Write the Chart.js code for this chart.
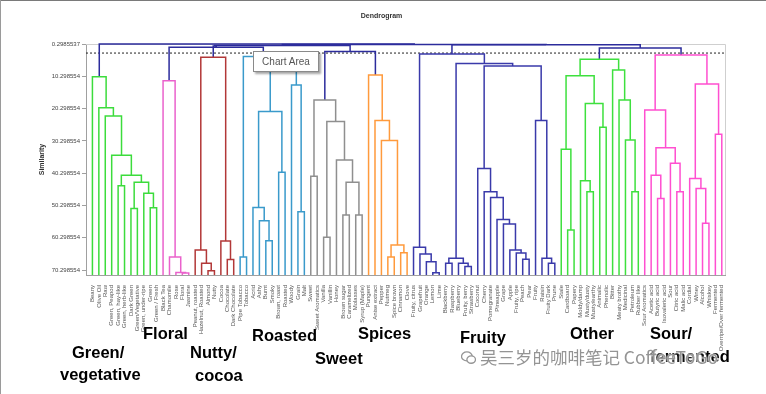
<!DOCTYPE html>
<html>
<head>
<meta charset="utf-8">
<script src="https://cdn.jsdelivr.net/npm/chart.js@4/dist/chart.umd.min.js"></script>
<style>
  html, body { margin: 0; padding: 0; background: #fff; }
  #wrap { position: relative; width: 766px; height: 394px; overflow: hidden; background: #fff; }
  #wrap canvas { position: absolute; left: 0; top: 0; }
  .cat { position: absolute; font-family: "Liberation Sans", Arial, sans-serif; font-weight: bold; font-size: 16.5px; color: #000; line-height: 22px; white-space: nowrap; }
  #tip { position: absolute; left: 253px; top: 51px; width: 64px; height: 19px; background: #fff; border: 1px solid #8a8a8a;
         box-shadow: 2px 2px 2px rgba(0,0,0,0.35); font-family: "Liberation Sans", Arial, sans-serif; font-size: 10px; color: #555;
         line-height: 19px; text-align: center; }
  #wm { position: absolute; left: 461px; top: 345px; font-family: "Noto Sans CJK SC", "Liberation Sans", sans-serif; font-size: 17.5px;
        color: #949494; white-space: nowrap; line-height: 24px; text-shadow: 0 0 2px #fff, 0 0 2px #fff; }
  #frameT { position: absolute; left: 0; top: 0; width: 766px; height: 1px; background: #7a7a7a; }
  #frameL { position: absolute; left: 0; top: 0; width: 1px; height: 394px; background: #9a9a9a; }
</style>
</head>
<body>
<div id="wrap">
  <canvas id="c" width="766" height="394"></canvas>
  <div id="tip">Chart Area</div>
  <div class="cat" style="left:72px; top:341px;">Green/</div>
  <div class="cat" style="left:60px; top:363px;">vegetative</div>
  <div class="cat" style="left:143px; top:322px;">Floral</div>
  <div class="cat" style="left:190px; top:341px;">Nutty/</div>
  <div class="cat" style="left:195px; top:364px;">cocoa</div>
  <div class="cat" style="left:252px; top:324px;">Roasted</div>
  <div class="cat" style="left:315px; top:347px;">Sweet</div>
  <div class="cat" style="left:358px; top:322px;">Spices</div>
  <div class="cat" style="left:460px; top:326px;">Fruity</div>
  <div class="cat" style="left:570px; top:322px;">Other</div>
  <div class="cat" style="left:650px; top:322px;">Sour/</div>
  <div class="cat" style="left:650px; top:345px;">fermented</div>
  <div id="wm"><svg width="15" height="14" viewBox="0 0 14 13" style="vertical-align:-1px"><ellipse cx="5.5" cy="5" rx="5" ry="4.2" fill="none" stroke="#949494" stroke-width="1.2"/><ellipse cx="9.5" cy="8" rx="4" ry="3.4" fill="#fff" stroke="#949494" stroke-width="1.2"/></svg> 吴三岁的咖啡笔记 CoffeeToGo</div>
  <div id="frameT"></div>
  <div id="frameL"></div>
</div>
<script>
// ---------------- data ----------------
const leafLabels = [
  "Beany","Olive Oil","Raw","Green, Peapod","Green, hay-like","Green, herb-like","Dark Green","Green/Vegetative","Green, under-ripe","Green","Green / Fresh",
  "Black Tea","Chamomile","Rose","Floral","Jasmine",
  "Peanut, roasted","Hazelnut, Roasted","Almond","Nutty","Cocoa","Chocolate","Dark Chocolate",
  "Pipe Tobacco","Tobacco","Acrid","Ashy","Burnt","Smoky","Brown, roast","Roasted","Woody","Grain","Malt",
  "Sweet","Sweet Aromatics","Vanilla","Vanillin","Honey","Brown sugar","Caramelized","Molasses","Syrup (Maple)",
  "Pungent","Anise extract","Pepper","Nutmeg","Spice brown","Cinnamon","Clove",
  "Fruity, citrus","Grapefruit","Orange","Lemon","Lime","Blackberry","Raspberry","Blueberry","Fruity, berry","Strawberry",
  "Coconut","Cherry","Pomegranate","Pineapple","Grape","Apple","Fruity, ripe","Peach","Pear","Fruity","Raisin","Fruity Dark","Prune",
  "Stale","Cardboard","Papery","Moldy/damp","Musty/dusty","Musty/earthy","Animalic","Phenolic","Bitter","Meaty brothy","Medicinal","Petroleum","Rubber like",
  "Sour Aromatics","Acetic acid","Butyric acid","Isovaleric acid","Sour","Citric acid","Malic acid","Cordial","Winey","Alcohol","Whiskey","Fermented","Overripe/Over fermented"
];

const yTickValues = [0.2985537, 10.298554, 20.298554, 30.298554, 40.298554, 50.298554, 60.298554, 70.298554];
const yTickLabels = ["0.2985537","10.298554","20.298554","30.298554","40.298554","50.298554","60.298554","70.298554"];

const cutLevel = 3.1;

// merges: [node id, left child, right child, similarity level]; numbers are leaf indices
const greenMerges = [
  ["g1", 9, 10, 51.0], ["g2", 8, "g1", 46.5], ["g3", 6, 7, 51.2], ["g4", "g3", "g2", 43.1],
  ["g5", 4, 5, 44.2], ["g6", "g5", "g4", 40.9], ["g7", 3, "g6", 34.7], ["g8", 2, "g7", 22.6],
  ["g9", 1, "g8", 20.0], ["g10", 0, "g9", 10.4]
];
const floralMerges = [
  ["f1", 14, 15, 71.2], ["f2", 13, "f1", 71.0], ["f3", 12, "f2", 66.2], ["f4", 11, "f3", 11.7]
];
const nuttyMerges = [
  ["n1", 18, 19, 70.5], ["n2", 17, "n1", 68.2], ["n3", 16, "n2", 64.1],
  ["n4", 21, 22, 67.0], ["n5", 20, "n4", 61.3], ["n6", "n3", "n5", 4.4]
];
const roastedMerges = [
  ["r1", 23, 24, 66.2], ["r2", 27, 28, 61.2], ["r3", 26, "r2", 55.0], ["r4", 25, "r3", 50.9],
  ["r5", 29, 30, 40.0], ["r6", "r4", "r5", 21.2], ["r7", 32, 33, 52.2], ["r8", 31, "r7", 13.0],
  ["r9", "r6", "r8", 7.5], ["r10", "r1", "r9", 4.2]
];
const sweetMerges = [
  ["s1", 36, 37, 60.1], ["s2", 39, 40, 53.2], ["s3", 41, 42, 53.2], ["s4", "s2", "s3", 43.1],
  ["s5", 38, "s4", 36.2], ["s6", "s1", "s5", 24.3], ["s7", 34, 35, 41.2], ["s8", "s7", "s6", 17.6]
];
const spiceMerges = [
  ["p1", 46, 47, 66.2], ["p2", 48, 49, 64.9], ["p3", "p1", "p2", 62.5], ["p4", 45, "p3", 30.2],
  ["p5", 44, "p4", 24.0], ["p6", 43, "p5", 9.9]
];
const fruityMerges = [
  ["c1", 53, 54, 71.1], ["c2", 52, "c1", 67.7], ["c3", 51, "c2", 65.3], ["c4", 50, "c3", 63.2],
  ["b1", 55, 56, 68.2], ["b2", 58, 59, 69.2], ["b3", 57, "b2", 68.2], ["b4", "b1", "b3", 66.6],
  ["t1", 67, 68, 66.9], ["t2", 66, "t1", 65.0], ["t3", 65, "t2", 64.1], ["t4", 64, "t3", 56.0],
  ["t5", 63, "t4", 54.6], ["t6", 62, "t5", 47.8], ["t7", 61, "t6", 46.0], ["t8", 60, "t7", 38.8],
  ["d1", 71, 72, 68.2], ["d2", 70, "d1", 66.6], ["d3", 69, "d2", 24.0],
  ["u1", "t8", "d3", 7.1], ["u2", "b4", "u1", 6.3], ["u3", "c4", "u2", 3.4]
];
const otherMerges = [
  ["o1", 74, 75, 57.9], ["o2", 73, "o1", 32.9], ["o3", 77, 78, 46.0], ["o4", 76, "o3", 42.6],
  ["o5", 79, 80, 26.1], ["o6", "o4", "o5", 18.7], ["o7", "o2", "o6", 10.1], ["o8", 84, 85, 46.0],
  ["o9", 83, "o8", 30.0], ["o10", 82, "o9", 17.6], ["o11", 81, "o10", 8.35], ["o12", "o7", "o11", 5.0]
];
const sourMerges = [
  ["a1", 88, 89, 48.1], ["a2", 87, "a1", 40.9], ["a3", 91, 92, 46.0], ["a4", 90, "a3", 37.2],
  ["a5", "a2", "a4", 32.4], ["a6", 86, "a5", 20.7], ["a7", 95, 96, 55.8], ["a8", 94, "a7", 45.0],
  ["a9", 93, "a8", 41.9], ["a10", 97, 98, 28.2], ["a11", "a9", "a10", 12.7], ["a12", "a6", "a11", 3.7]
];
const topMerges = [
  ["x1", "f4", "r10", 1.3], ["x2", "n6", "x1", 0.95], ["x3", "s8", "p6", 2.6], ["x4", "x2", "x3", 0.75],
  ["x5", "o12", "a12", 1.5], ["x6", "u3", "x5", 0.55], ["x7", "x4", "x6", 0.42], ["x8", "g10", "x7", 0.30]
];

// ---------------- styles ----------------
const Y_BOTTOM = 71.8;
const groupStyles = [
  { merges: greenMerges,   color: "#3cdc3c" },
  { merges: floralMerges,  color: "#ea62cc" },
  { merges: nuttyMerges,   color: "#b23838" },
  { merges: roastedMerges, color: "#3a9acb" },
  { merges: sweetMerges,   color: "#8f8f8f" },
  { merges: spiceMerges,   color: "#ff9a3c" },
  { merges: fruityMerges,  color: "#3a3aaa" },
  { merges: otherMerges,   color: "#3ee03e" },
  { merges: sourMerges,    color: "#ff4fd0" },
  { merges: topMerges,     color: "#2c2c9c" }
];

const nodeX = {}, nodeH = {};
const xOf = r => typeof r === "number" ? r : nodeX[r];
const hOf = r => typeof r === "number" ? Y_BOTTOM : nodeH[r];

const datasets = [];
groupStyles.forEach(g => {
  g.merges.forEach(([id, a, b, lvl]) => {
    const xa = xOf(a), xb = xOf(b);
    datasets.push({
      data: [{x: xa, y: hOf(a)}, {x: xa, y: lvl}, {x: xb, y: lvl}, {x: xb, y: hOf(b)}],
      borderColor: g.color, borderWidth: 1.5, showLine: true, pointRadius: 0, fill: false, tension: 0, clip: false
    });
    nodeX[id] = (xa + xb) / 2;
    nodeH[id] = lvl;
  });
});
// truncation level (dotted)
datasets.push({
  data: [{x: -1, y: cutLevel}, {x: 98.5, y: cutLevel}],
  borderColor: "#222", borderWidth: 1, borderDash: [2, 2], showLine: true, pointRadius: 0, fill: false, clip: false
});

const frame = {
  id: "frame",
  beforeDatasetsDraw(chart) {
    const {ctx, chartArea: a} = chart;
    ctx.save();
    ctx.strokeStyle = "#cfcfcf"; ctx.lineWidth = 1;
    ctx.beginPath();
    ctx.moveTo(a.left, a.top + 0.5); ctx.lineTo(a.right + 0.5, a.top + 0.5); ctx.lineTo(a.right + 0.5, a.bottom);
    ctx.stroke();
    ctx.restore();
  }
};

new Chart(document.getElementById("c"), {
  type: "scatter",
  data: { datasets },
  plugins: [frame],
  options: {
    responsive: false,
    animation: false,
    events: [],
    layout: { padding: { left: 38, right: 41, top: 0, bottom: 0 } },
    plugins: {
      legend: { display: false },
      tooltip: { enabled: false },
      title: { display: true, text: "Dendrogram", color: "#333",
               font: { family: "Liberation Sans", size: 7, weight: "bold" },
               padding: { top: 12, bottom: 23.6 } }
    },
    scales: {
      x: {
        type: "linear", min: -1, max: 98.5,
        afterBuildTicks: s => { s.ticks = leafLabels.map((_, i) => ({ value: i })); },
        afterFit: s => { s.height = 119; },
        ticks: { autoSkip: false, minRotation: 90, maxRotation: 90, padding: 2,
                 font: { family: "Liberation Sans", size: 6 }, color: "#555",
                 callback: v => leafLabels[v] },
        grid: { display: false },
        border: { display: true, color: "#a0a0a0", width: 1 }
      },
      y: {
        type: "linear", reverse: true, min: 0.2985537, max: Y_BOTTOM,
        afterBuildTicks: s => { s.ticks = yTickValues.map(v => ({ value: v })); },
        afterFit: s => { s.width = 48; },
        ticks: { padding: 2, font: { family: "Liberation Sans", size: 6 }, color: "#444",
                 callback: (v, i) => yTickLabels[i] },
        grid: { drawOnChartArea: false, drawTicks: true, tickLength: 4, color: "#a0a0a0" },
        border: { display: true, color: "#a0a0a0", width: 1 },
        title: { display: true, text: "Similarity", color: "#333", padding: 0,
                 font: { family: "Liberation Sans", size: 7, weight: "bold" } }
      }
    }
  }
});
</script>
</body>
</html>
